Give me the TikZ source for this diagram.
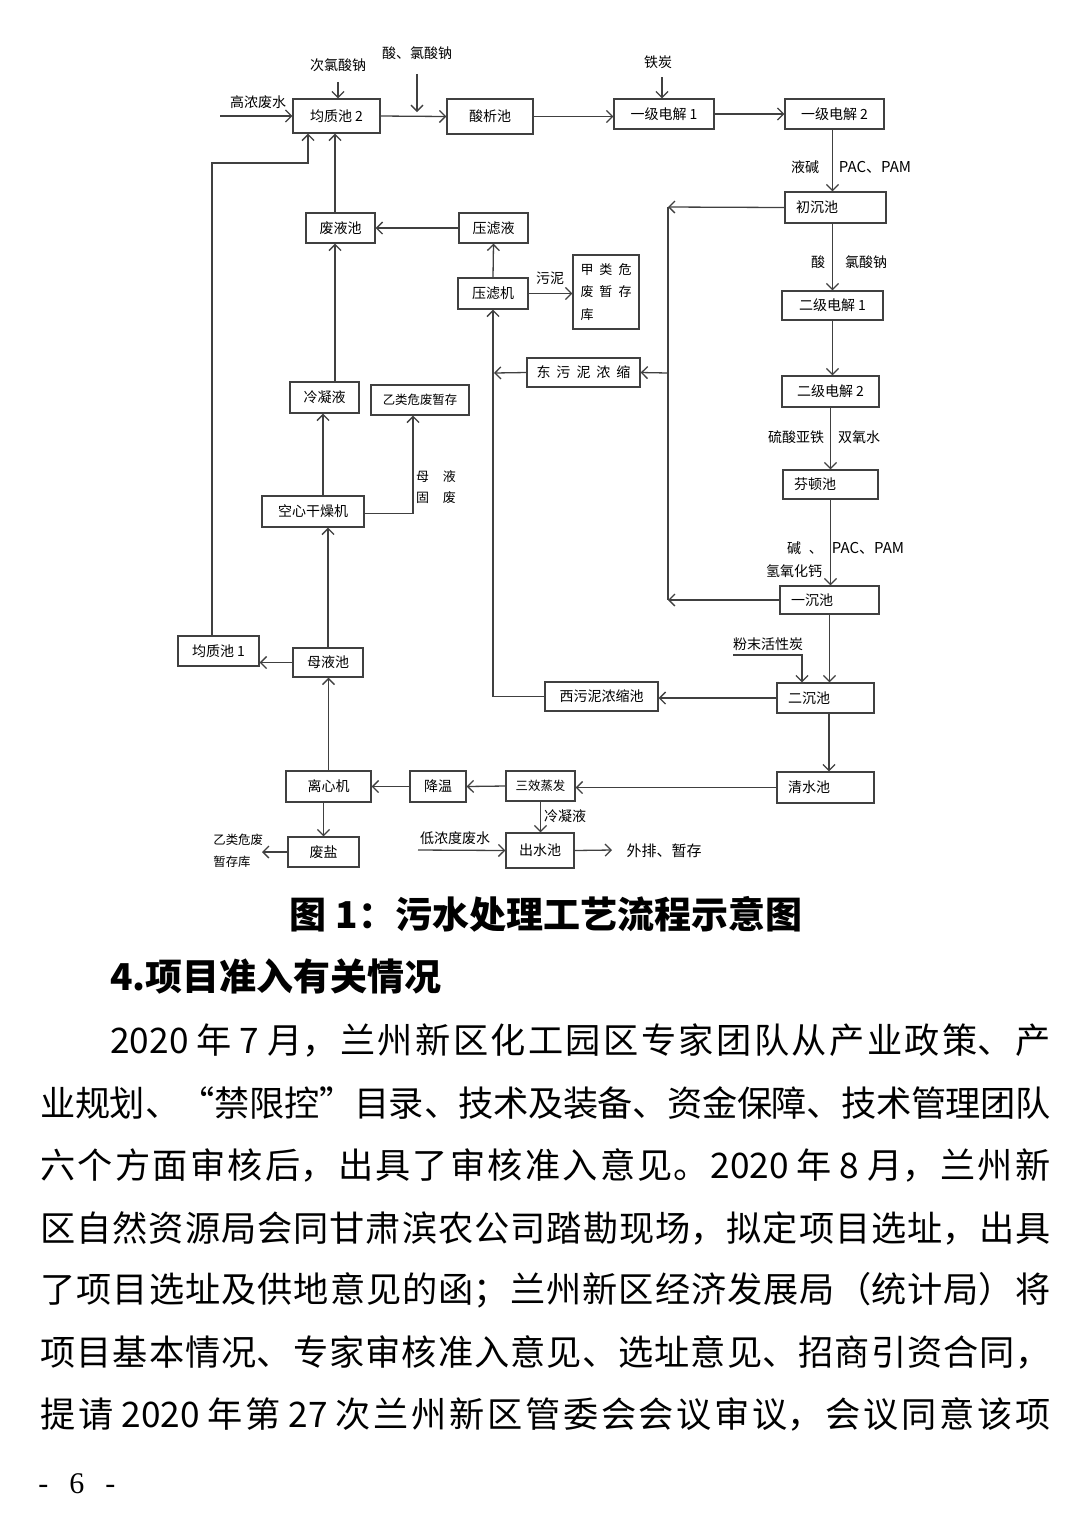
\documentclass[tikz,border=0pt]{standalone}
\usepackage{fontspec}
\setmainfont{Noto Sans CJK SC}
\newfontfamily\pgfont{Liberation Serif}
\usetikzlibrary{arrows.meta}

\XeTeXlinebreaklocale "zh"
\XeTeXlinebreakskip=0pt plus 4pt minus 0.4pt

\newcommand{\kg}[1]{\hspace{#1pt}}

\tikzset{
    box/.style={draw=black!75, line width=0.65pt, inner sep=0pt,
        font=\fontsize{7}{8}\selectfont},
    lbox/.style={box, align=left, inner xsep=5.5pt},
    lbl/.style={inner sep=0pt, font=\fontsize{7}{8}\selectfont},
    slbl/.style={inner sep=0pt, font=\fontsize{6.2}{7}\selectfont},
    ln/.style={draw=black!75, line width=0.65pt},
    arr/.style={ln, -{Straight Barb[length=3pt, width=6pt]}},
    body/.style={inner sep=0pt, anchor=west, text width=505pt, align=justify,
        font=\fontsize{17.6}{20}\selectfont},
}

\begin{document}
\begin{tikzpicture}[x=0.5pt, y=-0.5pt]

    \useasboundingbox (0,0) rectangle (1080,1523);

    % 上部 方框
    \node[box, minimum width=43.5pt, minimum height=17pt] (jz2) at (336.5,116) {均质池 2};
    \node[box, minimum width=43pt, minimum height=17.5pt] (sxc) at (490,116.5) {酸析池};
    \node[box, minimum width=50pt, minimum height=15pt] (yj1) at (664,114) {一级电解 1};
    \node[box, minimum width=49.5pt, minimum height=15pt] (yj2) at (834.5,114) {一级电解 2};

    % 右列
    \node[lbox, text width=39.5pt, minimum height=15.5pt] (cc) at (835.5,207.5) {初沉池};
    \node[box, minimum width=50.5pt, minimum height=14.5pt] (ej1) at (832.5,305.5) {二级电解 1};
    \node[box, minimum width=48.5pt, minimum height=15.5pt] (ej2) at (830.5,391.5) {二级电解 2};
    \node[lbox, text width=36.5pt, minimum height=14.5pt] (fd) at (830.5,484.5) {芬顿池};
    \node[lbox, text width=38.5pt, minimum height=14pt] (yc) at (829.5,600) {一沉池};
    \node[lbox, text width=37.5pt, minimum height=15pt] (ec) at (825.5,698) {二沉池};
    \node[lbox, text width=37.5pt, minimum height=15.5pt] (qs) at (825.5,787.5) {清水池};

    % 中部
    \node[box, minimum width=34.5pt, minimum height=15pt] (fyc) at (340.5,228) {废液池};
    \node[box, minimum width=34.5pt, minimum height=15pt] (ylye) at (493.5,228) {压滤液};
    \node[box, minimum width=35pt, minimum height=15.5pt] (ylj) at (493,293.5) {压滤机};
    \node[box, minimum width=33pt, minimum height=37pt, align=left,
        font=\fontsize{6.5}{11.25}\selectfont] (jlk) at (606,292)
        {甲\kg{3}类\kg{3}危\\废\kg{3}暂\kg{3}存\\库};
    \node[box, minimum width=56.5pt, minimum height=14.5pt] (dwn) at (583.5,372.5)
        {东\kg{3}污\kg{3}泥\kg{3}浓\kg{3}缩};
    \node[box, minimum width=56.5pt, minimum height=14.5pt] (xwn) at (601.5,696.5) {西污泥浓缩池};

    % 左列
    \node[box, minimum width=34.5pt, minimum height=15.5pt] (lny) at (324.5,397.5) {冷凝液};
    \node[box, minimum width=49pt, minimum height=15pt, font=\fontsize{6.2}{7}\selectfont] (ylwf) at (420,400) {乙类危废暂存};
    \node[box, minimum width=51pt, minimum height=15.5pt] (kgz) at (313,511.5) {空心干燥机};
    \node[box, minimum width=40.5pt, minimum height=15pt] (jz1) at (218.5,651) {均质池 1};
    \node[box, minimum width=35pt, minimum height=14.5pt] (myc) at (328,662.5) {母液池};

    % 下部
    \node[box, minimum width=42.5pt, minimum height=15.5pt] (lxj) at (328.5,786.5) {离心机};
    \node[box, minimum width=28pt, minimum height=15.5pt] (jw) at (438,786.5) {降温};
    \node[box, minimum width=34.5pt, minimum height=15pt, font=\fontsize{6.2}{7}\selectfont] (sx) at (540.5,786) {三效蒸发};
    \node[box, minimum width=35.5pt, minimum height=15pt] (fy) at (323.5,852) {废盐};
    \node[box, minimum width=34pt, minimum height=17.5pt] (cs) at (540,850.5) {出水池};

    % 标注
    \node[lbl] (gnfs) at (258,102) {高浓废水};
    \node[lbl] (clsn) at (338,65) {次氯酸钠};
    \node[lbl] (slsn) at (417,53) {酸、氯酸钠};
    \node[lbl] (tt) at (658,62) {铁炭};
    \node[lbl] (yjn) at (805,167) {液碱};
    \node[lbl, font=\fontsize{7.5}{8}\selectfont] (pac1) at (875,167) {PAC、PAM};
    \node[lbl] (suan) at (818,262) {酸};
    \node[lbl] (lsn) at (866,262) {氯酸钠};
    \node[lbl] (lsyt) at (796,437) {硫酸亚铁};
    \node[lbl] (syq) at (859,437) {双氧水};
    \node[lbl] (jian) at (805,548) {碱\kg{4}、};
    \node[lbl, font=\fontsize{7.5}{8}\selectfont] (pac2) at (868,548) {PAC、PAM};
    \node[lbl] (qyhg) at (794,571) {氢氧化钙};
    \node[lbl] (fmhxt) at (768,644) {粉末活性炭};
    \node[lbl] (wn) at (550,278) {污泥};
    \node[lbl, align=left, font=\fontsize{6.5}{10.5}\selectfont] (myfs) at (436,487)
        {母\kg{7}液\\固\kg{7}废};
    \node[slbl, align=left, anchor=west, font=\fontsize{6.2}{11}\selectfont] (ylk) at (213,851)
        {乙类危废\\暂存库};
    \node[lbl] (lny2) at (565,816) {冷凝液};
    \node[lbl] (dnd) at (455,838) {低浓度废水};
    \node[lbl, font=\fontsize{7.5}{8}\selectfont] (wp) at (664,851) {外排、暂存};

    % 空端点
    \coordinate (gn0) at (220,116);
    \coordinate (tt0) at (662,77);
    \coordinate (wnt) at (668,207);
    \coordinate (wnb) at (668,600);
    \coordinate (wnm) at (668,373);
    \coordinate (dwl) at (494,373);
    \coordinate (fm0) at (733,655);
    \coordinate (fm1) at (802,655);
    \coordinate (hl1) at (212,163);
    \coordinate (hl2) at (308,163);
    \coordinate (ylk0) at (262,852);
    \coordinate (dn0) at (418,850);
    \coordinate (wp0) at (612,850);

    % 主流程
    \draw[arr] (gn0) -- (jz2.west);
    \draw[arr] ([yshift=-5pt]clsn.south) -- (clsn.south |- jz2.north);
    \draw[arr] (jz2.east) -- (sxc.west);
    \draw[arr] ([yshift=-7pt]slsn.south) -- ([yshift=2pt]slsn.south |- jz2.east);
    \draw[arr] (sxc.east) -- (sxc.east -| yj1.west);
    \draw[arr] (tt0) -- (tt0 |- yj1.north);
    \draw[arr] (yj1.east) -- (yj2.west);
    \draw[arr] ([xshift=-1pt]yj2.south) -- ([xshift=-1pt]yj2.south |- cc.north);
    \draw[arr] ([xshift=-1.5pt]cc.south) -- ([xshift=-1.5pt]cc.south |- ej1.north);
    \draw[arr] (ej1.south) -- (ej1.south |- ej2.north);
    \draw[arr] (ej2.south) -- (ej2.south |- fd.north);
    \draw[arr] (fd.south) -- (fd.south |- yc.north);
    \draw[arr] (yc.south) -- (yc.south |- ec.north);
    \draw[arr] (fm0) -- (fm1) -- (fm1 |- ec.north);
    \draw[arr] ([xshift=1.75pt]ec.south) -- ([xshift=1.75pt]ec.south |- qs.north);
    \draw[arr] (qs.west) -- (qs.west -| sx.east);
    \draw[arr] (sx.west) -- (jw.east);
    \draw[arr] (jw.west) -- (lxj.east);
    \draw[arr] (sx.south) -- (sx.south |- cs.north);
    \draw[arr] (dn0) -- (cs.west);
    \draw[arr] (cs.east) -- (wp0);

    % 污泥
    \draw[arr] (cc.west) -- (wnt);
    \draw[arr] (yc.west) -- (wnb);
    \draw[ln] (wnt) -- (wnb);
    \draw[arr] (wnm) -- (dwn.east);
    \draw[arr] (dwn.west) -- (dwl);
    \draw[arr] (ec.west) -- (ec.west -| xwn.east);
    \draw[arr] (xwn.west) -| (ylj.south);
    \draw[arr] (ylj.north) -- (ylye.south);
    \draw[arr] (ylj.east) -- (ylj.east -| jlk.west);
    \draw[arr] (ylye.west) -- (fyc.east);
    \draw[arr] ([xshift=-2.75pt]fyc.north) -- ([xshift=-2.75pt]fyc.north |- jz2.south);

    % 蒸发母液
    \draw[arr] (fy.north |- lxj.south) -- (fy.north);
    \draw[arr] (fy.west) -- (ylk0);
    \draw[arr] (lxj.north) -- (lxj.north |- myc.south);
    \draw[arr] (myc.north) -- (myc.north |- kgz.south);
    \draw[arr] (myc.west) -- (myc.west -| jz1.east);
    \draw[arr] (jz1.north -| hl1) -- (hl1) -- (hl2) -- (hl2 |- jz2.south);
    \draw[arr] ([xshift=5pt]kgz.north) -- ([xshift=5pt]kgz.north |- lny.south);
    \draw[arr] ([yshift=-1pt]kgz.east) -| ([xshift=-3.5pt]ylwf.south);
    \draw[arr] ([xshift=5.25pt]lny.north) -- ([xshift=5.25pt]lny.north |- fyc.south);

    % 图题与正文
    \node[inner sep=0pt, font=\fontsize{18.5}{20}\selectfont\bfseries] (cap) at (546,914)
        {图 1：污水处理工艺流程示意图};
    \node[inner sep=0pt, anchor=west, font=\fontsize{18.5}{20}\selectfont\bfseries] (h4) at (110,976)
        {4.项目准入有关情况};

    \node[body, text width=470pt] (p1) at (110,1040)
        {\parfillskip=0pt 2020\kg{4}年\kg{4}7\kg{4}月，兰州新区化工园区专家团队从产业政策、产\par};
    \node[body] (p2) at (40,1103)
        {\parfillskip=0pt 业规划、“禁限控”目录、技术及装备、资金保障、技术管理团队\par};
    \node[body] (p3) at (40,1165)
        {\parfillskip=0pt 六个方面审核后，出具了审核准入意见。2020\kg{4}年\kg{4}8\kg{4}月，兰州新\par};
    \node[body] (p4) at (40,1228)
        {\parfillskip=0pt 区自然资源局会同甘肃滨农公司踏勘现场，拟定项目选址，出具\par};
    \node[body] (p5) at (40,1290)
        {\parfillskip=0pt 了项目选址及供地意见的函；兰州新区经济发展局（统计局）将\par};
    \node[body] (p6) at (40,1352)
        {\parfillskip=0pt 项目基本情况、专家审核准入意见、选址意见、招商引资合同，\par};
    \node[body] (p7) at (40,1414)
        {\parfillskip=0pt 提请\kg{4}2020\kg{4}年第\kg{4}27\kg{4}次兰州新区管委会会议审议，会议同意该项\par};

    % 页码
    \node[inner sep=0pt, anchor=west, font=\pgfont\fontsize{15}{16}\selectfont] (pg) at (38,1484)
        {\makebox[38.5pt][s]{- 6 -}};

\end{tikzpicture}
\end{document}
